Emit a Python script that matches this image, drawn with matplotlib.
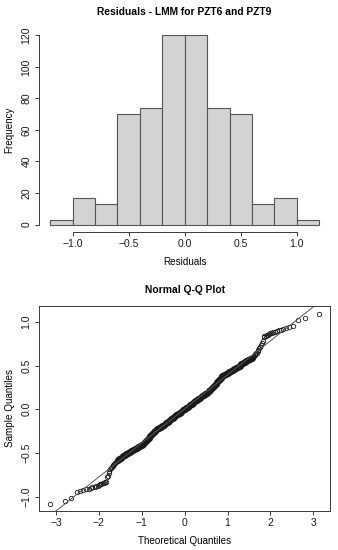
import matplotlib.pyplot as plt

plt.rcParams["font.family"] = ["Liberation Sans", "DejaVu Sans"]

# histogram of residuals
BIN_EDGES = [-1.2, -1.0, -0.8, -0.6, -0.4, -0.2, 0.0, 0.2, 0.4, 0.6, 0.8, 1.0, 1.2]
COUNTS = [3, 17, 13, 70, 74, 120, 120, 74, 70, 13, 17, 3]
HIST_XTICKS = [-1.0, -0.5, 0.0, 0.5, 1.0]
HIST_YTICKS = [0, 20, 40, 60, 80, 100, 120]

QQ_X_LOW = [-3.14, -2.80, -2.64, -2.52, -2.43, -2.36, -2.29, -2.24, -2.19, -2.15,
            -2.10, -2.07, -2.03, -2.00, -1.97, -1.94, -1.91, -1.89, -1.86, -1.84,
            -1.818, -1.796, -1.775, -1.755, -1.736, -1.718, -1.70, -1.682, -1.665,
            -1.648, -1.634, -1.618, -1.601]
QQ_Y_LOW = [-1.086, -1.048, -1.021, -0.948, -0.935, -0.925, -0.917, -0.91, -0.903,
            -0.896, -0.889, -0.882, -0.875, -0.868, -0.861, -0.854, -0.847, -0.841,
            -0.835, -0.83, -0.78, -0.76, -0.735, -0.71, -0.69, -0.675, -0.66, -0.65,
            -0.64, -0.63, -0.62, -0.61, -0.605]
QQ_X_MID = [-1.56, -1.52, -1.48, -1.44, -1.40, -1.36, -1.32, -1.28, -1.24, -1.20,
            -1.16, -1.12, -1.08, -1.04, -1.00, -0.96, -0.92, -0.88, -0.84, -0.80,
            -0.76, -0.72, -0.68, -0.64, -0.60, -0.56, -0.52, -0.48, -0.44, -0.40,
            -0.36, -0.32, -0.28, -0.24, -0.20, -0.16, -0.12, -0.08, -0.04, 0.00,
            0.04, 0.08, 0.12, 0.16, 0.20, 0.24, 0.28, 0.32, 0.36, 0.40,
            0.44, 0.48, 0.52, 0.56, 0.60, 0.64, 0.68, 0.72, 0.76, 0.80,
            0.84, 0.88, 0.92, 0.96, 1.00, 1.04, 1.08, 1.12, 1.16, 1.20,
            1.24, 1.28, 1.32, 1.36, 1.40, 1.44, 1.48, 1.52, 1.56]
QQ_Y_MID = [-0.582, -0.566, -0.553, -0.541, -0.529, -0.516, -0.503, -0.491, -0.479, -0.467,
            -0.455, -0.444, -0.433, -0.422, -0.411, -0.398, -0.378, -0.355, -0.330, -0.305,
            -0.280, -0.260, -0.243, -0.229, -0.216, -0.204, -0.190, -0.175, -0.160, -0.145,
            -0.130, -0.114, -0.099, -0.084, -0.070, -0.055, -0.040, -0.026, -0.012, 0.002,
            0.016, 0.030, 0.045, 0.060, 0.075, 0.090, 0.105, 0.119, 0.133, 0.147,
            0.161, 0.176, 0.192, 0.208, 0.224, 0.242, 0.262, 0.285, 0.310, 0.335,
            0.358, 0.378, 0.394, 0.406, 0.418, 0.430, 0.441, 0.452, 0.463, 0.475,
            0.488, 0.501, 0.514, 0.527, 0.540, 0.552, 0.564, 0.576, 0.590]
QQ_X_HIGH = [1.601, 1.618, 1.634, 1.648, 1.665, 1.682, 1.70, 1.718, 1.736, 1.755,
             1.775, 1.796, 1.818, 1.84, 1.86, 1.89, 1.91, 1.94, 1.97, 2.00,
             2.03, 2.07, 2.10, 2.15, 2.19, 2.24, 2.29, 2.36, 2.43, 2.52,
             2.64, 2.80, 3.14]
QQ_Y_HIGH = [0.605, 0.612, 0.62, 0.63, 0.64, 0.65, 0.665, 0.68, 0.70, 0.72,
             0.74, 0.76, 0.785, 0.832, 0.838, 0.844, 0.85, 0.856, 0.863, 0.87,
             0.877, 0.884, 0.891, 0.898, 0.905, 0.912, 0.92, 0.93, 0.942, 0.955,
             1.027, 1.052, 1.093]
QQLINE_INTERCEPT = 0.005
QQLINE_SLOPE = 0.390
QQ_XTICKS = [-3, -2, -1, 0, 1, 2, 3]
QQ_YTICKS = [-1.0, -0.5, 0.0, 0.5, 1.0]

INK = "#3a3a3a"
FS_LABEL = 7.1
FS_TICK = 7.5


def style_ticks(ax):
    ax.tick_params(direction="out", length=2.9, width=0.7, color=INK,
                   labelsize=FS_TICK, labelcolor="#1a1a1a", pad=2.2)
    ax.tick_params(axis="y", labelrotation=90, pad=2.6)
    for lab in ax.get_yticklabels():
        lab.set_verticalalignment("center")


def main() -> None:
    fig = plt.figure(figsize=(3.38, 5.5), dpi=100)

    # --- histogram ---
    ax1 = fig.add_axes([0.1163, 0.578, 0.86, 0.3716])
    widths = [b - a for a, b in zip(BIN_EDGES[:-1], BIN_EDGES[1:])]
    ax1.bar(BIN_EDGES[:-1], COUNTS, width=widths, align="edge",
            color="#d3d3d3", edgecolor="#555555", linewidth=0.8)
    ax1.set_xlim(-1.296, 1.296)
    ax1.set_ylim(-4.8, 124.8)
    ax1.set_xticks(HIST_XTICKS)
    ax1.set_xticklabels([f"{v:.1f}".replace("-", "\u2212") for v in HIST_XTICKS])
    ax1.set_yticks(HIST_YTICKS)
    for side in ("top", "right"):
        ax1.spines[side].set_visible(False)
    ax1.spines["bottom"].set_bounds(HIST_XTICKS[0], HIST_XTICKS[-1])
    ax1.spines["left"].set_bounds(HIST_YTICKS[0], HIST_YTICKS[-1])
    for side in ("bottom", "left"):
        ax1.spines[side].set_color(INK)
        ax1.spines[side].set_linewidth(0.7)
    style_ticks(ax1)
    ax1.set_title("Residuals - LMM for PZT6 and PZT9", fontsize=7.4,
                  fontweight="bold", pad=9)
    ax1.set_xlabel("Residuals", fontsize=FS_LABEL, labelpad=5.5)
    ax1.set_ylabel("Frequency", fontsize=FS_LABEL, labelpad=5)

    # --- normal Q-Q plot ---
    ax2 = fig.add_axes([0.1163, 0.0709, 0.86, 0.3733])
    marker_kw = dict(linestyle="none", marker="o", markersize=3.2,
                     markerfacecolor="none", markeredgecolor="#1a1a1a")
    ax2.plot(QQ_X_LOW, QQ_Y_LOW, markeredgewidth=0.6, **marker_kw)
    # the middle band is hundreds of overlapping circles in the original: draw it heavier
    ax2.plot(QQ_X_MID, QQ_Y_MID, markeredgewidth=1.8, **marker_kw)
    ax2.plot(QQ_X_HIGH, QQ_Y_HIGH, markeredgewidth=0.6, **marker_kw)
    ax2.axline((0, QQLINE_INTERCEPT), slope=QQLINE_SLOPE, color="#555555", linewidth=0.7)
    ax2.set_xlim(-3.39, 3.39)
    ax2.set_ylim(-1.166, 1.188)
    ax2.set_xticks(QQ_XTICKS)
    ax2.set_xticklabels([str(v).replace("-", "\u2212") for v in QQ_XTICKS])
    ax2.set_yticks(QQ_YTICKS)
    ax2.set_yticklabels([f"{v:.1f}".replace("-", "\u2212") for v in QQ_YTICKS])
    for side in ax2.spines:
        ax2.spines[side].set_color(INK)
        ax2.spines[side].set_linewidth(0.7)
    style_ticks(ax2)
    ax2.set_title("Normal Q-Q Plot", fontsize=7.4, fontweight="bold", pad=9)
    ax2.set_xlabel("Theoretical Quantiles", fontsize=FS_LABEL, labelpad=5.5)
    ax2.set_ylabel("Sample Quantiles", fontsize=FS_LABEL, labelpad=5)

    fig.savefig("out.png", dpi=100)
    plt.close(fig)


if __name__ == "__main__":
    main()
